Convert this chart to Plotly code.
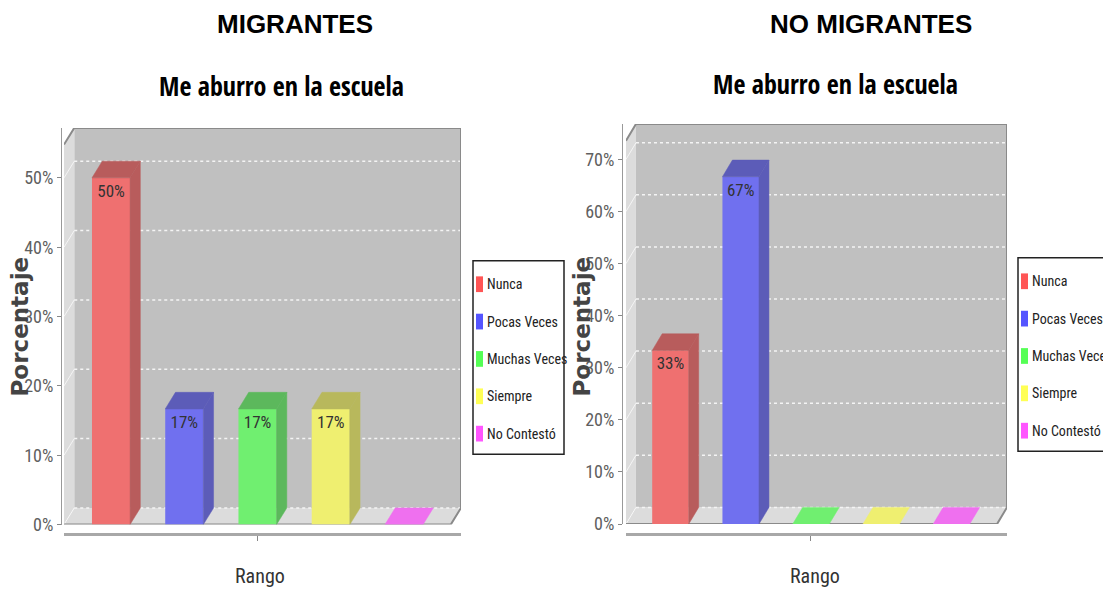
import plotly.graph_objects as go

W, H = 1111, 604
OFF = 8  # the page body adds an 8px margin around the figure

# data
categories = ["Nunca", "Pocas Veces", "Muchas Veces", "Siempre", "No Contestó"]
migrantes = [50.0, 16.67, 16.67, 16.67, 0.0]
no_migrantes = [33.33, 66.67, 0.0, 0.0, 0.0]
ticks_migrantes = [0, 10, 20, 30, 40, 50]
ticks_no_migrantes = [0, 10, 20, 30, 40, 50, 60, 70]
headers = ["MIGRANTES", "NO MIGRANTES"]
chart_title = "Me aburro en la escuela"
y_title = "Porcentaje"
x_title = "Rango"

# style
front_colors = ["#ef7070", "#7070ef", "#70ef70", "#efef70", "#ef70ef"]
dark_colors = ["#b85c5c", "#5c5cb8", "#5cb85c", "#b8b85c", "#b85cb8"]
legend_colors = ["#ff5555", "#5555ff", "#55ff55", "#ffff55", "#ff55ff"]
NARROW = "Roboto Condensed, Liberation Sans Narrow, sans-serif"
TITLE_FONT = "Open Sans Condensed, Roboto Condensed, sans-serif"
ARIAL = "Liberation Sans, Arial, sans-serif"
SANS = "DejaVu Sans, Verdana, sans-serif"
BAR_W = 0.52

# pixel layout of each panel (front-left .. back-right, back-top .. floor)
panels = [
    dict(values=migrantes, ticks=ticks_migrantes, header=headers[0],
         left=64, right=461, top=130, bottom=533.5, xr=[-0.642, 4.778], yr=[0, 57.2],
         dx=0.14, dy=2.4, axis_x=61, header_x=295, title_x=281, title_y=87,
         ytitle_x=20, rango_x=260, legend_x=473, legend_top=265, legend_w=91),
    dict(values=no_migrantes, ticks=ticks_no_migrantes, header=headers[1],
         left=626, right=1007, top=126, bottom=533, xr=[-0.633, 4.791], yr=[0, 76.8],
         dx=0.142, dy=3.2, axis_x=622, header_x=871, title_x=835, title_y=85,
         ytitle_x=582, rango_x=815, legend_x=1018, legend_top=262, legend_w=89),
]

FW, FH = W - OFF, H - 2 * OFF


def fx(p):
    return (p - OFF) / FW


def fy(p):
    return 1 - (p - OFF) / FH


fig = go.Figure()
shapes = []
annotations = []

for n, pn in enumerate(panels):
    s = "" if n == 0 else str(n + 1)
    xa, ya = "x" + s, "y" + s
    dx, dy = pn["dx"], pn["dy"]
    x0 = pn["xr"][0]
    x1 = pn["xr"][1] - dx
    top = pn["yr"][1]

    # walls and floor of the 3D box
    shapes.append(dict(type="rect", xref=xa, yref=ya, x0=x0 + dx, x1=x1 + dx, y0=dy, y1=top,
                       fillcolor="#c0c0c0", line_width=0, layer="below"))
    shapes.append(dict(type="path", xref=xa, yref=ya,
                       path=f"M {x0},0 L {x0 + dx},{dy} L {x0 + dx},{top} L {x0},{top - dy} Z",
                       fillcolor="#dcdcdc", line_width=0, layer="below"))
    shapes.append(dict(type="path", xref=xa, yref=ya,
                       path=f"M {x0},0 L {x1},0 L {x1 + dx},{dy} L {x0 + dx},{dy} Z",
                       fillcolor="#dcdcdc", line_width=0, layer="below"))
    for t in pn["ticks"]:
        shapes.append(dict(type="line", xref=xa, yref=ya, x0=x0 + dx, x1=x1 + dx,
                           y0=t + dy, y1=t + dy, layer="below",
                           line=dict(color="#f4f4f4", width=1.5, dash="dot")))
        shapes.append(dict(type="line", xref=xa, yref=ya, x0=x0, x1=x0 + dx,
                           y0=t, y1=t + dy, layer="below",
                           line=dict(color="rgba(255,255,255,0.7)", width=1)))
    shapes.append(dict(type="path", xref=xa, yref=ya,
                       path=(f"M {x0},{top - dy} L {x0 + dx},{top} L {x1 + dx},{top} "
                             f"L {x1 + dx},{dy} L {x1},0 L {x0},0"),
                       line=dict(color="#8a8a8a", width=2), layer="below"))

    # bars: front face + top and side faces
    for i, (cat, v) in enumerate(zip(categories, pn["values"])):
        label = f"{round(v)}%" if v > 0 else ""
        fig.add_trace(go.Bar(
            x=[i], y=[v], width=BAR_W, name=cat, showlegend=False,
            marker=dict(color=front_colors[i], line_width=0),
            text=[label], textposition="inside", insidetextanchor="end", textangle=0,
            textfont=dict(family=NARROW, size=17, color="#333333"),
            constraintext="none", xaxis=xa, yaxis=ya,
        ))
        xl, xr_ = i - BAR_W / 2, i + BAR_W / 2
        top_color = dark_colors[i] if v > 0 else front_colors[i]
        fig.add_trace(go.Scatter(
            x=[xl, xr_, xr_ + dx, xl + dx, xl], y=[v, v, v + dy, v + dy, v],
            fill="toself", fillcolor=top_color, mode="lines",
            line=dict(color=top_color, width=0.5), showlegend=False,
            hoverinfo="skip", xaxis=xa, yaxis=ya,
        ))
        if v > 0:
            fig.add_trace(go.Scatter(
                x=[xr_, xr_ + dx, xr_ + dx, xr_, xr_], y=[0, dy, v + dy, v, 0],
                fill="toself", fillcolor=dark_colors[i], mode="lines",
                line=dict(color=dark_colors[i], width=0.5), showlegend=False,
                hoverinfo="skip", xaxis=xa, yaxis=ya,
            ))

    fig.layout["xaxis" + s] = dict(
        domain=[fx(pn["left"]), fx(pn["right"])], range=pn["xr"],
        anchor="free", position=fy(543), showline=True, linecolor="#a8a8a8", linewidth=3,
        tickvals=[len(categories) // 2], ticks="outside", ticklen=5, tickcolor="#888",
        showticklabels=False, showgrid=False, zeroline=False, fixedrange=True,
    )
    fig.layout["yaxis" + s] = dict(
        domain=[fy(pn["bottom"]), fy(pn["top"])], range=pn["yr"],
        anchor="free", position=fx(pn["axis_x"]), showline=True, linecolor="#999", linewidth=1,
        tickvals=pn["ticks"], ticktext=[f"{t}%" for t in pn["ticks"]],
        ticks="outside", ticklen=4, tickcolor="#888",
        tickfont=dict(family=NARROW, size=18, color="#606060"),
        showgrid=False, zeroline=False, fixedrange=True,
    )

    # texts
    common = dict(xref="paper", yref="paper", showarrow=False, xanchor="center", yanchor="middle")
    annotations.append(dict(text=f"<b>{pn['header']}</b>", x=fx(pn["header_x"]), y=fy(24),
                            font=dict(family=ARIAL, size=26, color="black"), **common))
    annotations.append(dict(text=f"<b>{chart_title}</b>", x=fx(pn["title_x"]), y=fy(pn["title_y"]),
                            font=dict(family=TITLE_FONT, size=26, color="black"), **common))
    annotations.append(dict(text=f"<b>{y_title}</b>", x=fx(pn["ytitle_x"]), y=fy(332), textangle=-90,
                            font=dict(family=SANS, size=23, color="#444"), **common))
    annotations.append(dict(text=x_title, x=fx(pn["rango_x"]), y=fy(586),
                            font=dict(family=NARROW, size=20, color="#333"), **common))

    # legend box
    lx, lt, lw = pn["legend_x"], pn["legend_top"], pn["legend_w"]
    shapes.append(dict(type="rect", xref="paper", yref="paper",
                       x0=fx(lx), x1=fx(lx + lw), y0=fy(lt), y1=fy(lt + 197),
                       fillcolor="white", line=dict(color="#222", width=1.5)))
    for i, cat in enumerate(categories):
        yc = lt + 24 + i * 38
        shapes.append(dict(type="rect", xref="paper", yref="paper",
                           x0=fx(lx + 3), x1=fx(lx + 10), y0=fy(yc - 8), y1=fy(yc + 8),
                           fillcolor=legend_colors[i], line_width=0))
        annotations.append(dict(text=cat, x=fx(lx + 12), y=fy(yc), xanchor="left", yanchor="middle",
                                xref="paper", yref="paper", showarrow=False,
                                font=dict(family=NARROW, size=14, color="#222")))

fig.update_layout(
    width=FW, height=FH, margin=dict(l=0, r=0, t=0, b=0),
    paper_bgcolor="white", plot_bgcolor="rgba(0,0,0,0)",
    barmode="overlay", showlegend=False,
    shapes=shapes, annotations=annotations,
)

fig.write_html("out.html")
